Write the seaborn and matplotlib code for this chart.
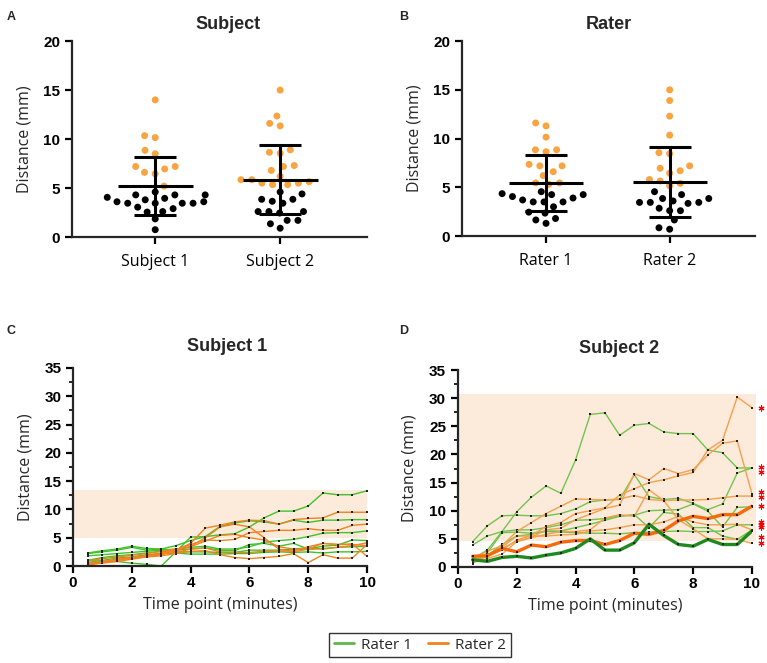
import matplotlib
matplotlib.use("Agg")
import matplotlib.pyplot as plt
from matplotlib.lines import Line2D
from matplotlib.ticker import MultipleLocator
import seaborn as sns
import numpy as np
import pandas as pd

# ── panel A / B : individual distances (orange = above 5 mm) ─────────
subject_groups = ["Subject 1", "Subject 2"]
subj1_high = [14.0, 10.15, 10.35, 8.85, 8.5, 7.2, 6.95, 7.2, 6.45, 6.6, 5.2]
subj1_low = [4.6, 4.3, 4.3, 4.3, 4.05, 3.8, 3.95, 3.45, 3.45, 3.6, 3.6,
             3.45, 3.45, 3.05, 2.9, 2.6, 2.55, 1.85, 0.75]
subj2_high = [15.0, 12.35, 11.35, 11.6, 8.65, 8.55, 8.9, 7.3, 7.2, 6.8,
              5.85, 5.85, 5.5, 5.35, 5.35, 5.5, 5.65, 6.2]
subj2_low = [4.6, 4.4, 3.85, 3.85, 3.45, 3.65, 2.6, 2.6, 2.6, 2.45,
             1.7, 1.7, 0.9, 1.35]
subject_mean = [5.2, 5.85]
subject_sd = [2.95, 3.5]

rater_groups = ["Rater 1", "Rater 2"]
rater1_high = [11.3, 11.6, 10.15, 8.85, 8.85, 8.65, 7.2, 7.35, 7.2, 6.6,
               6.2, 5.45, 5.3, 5.45]
rater1_low = [4.55, 4.25, 4.35, 4.25, 3.9, 4.05, 3.5, 3.5, 3.5, 3.7, 3.0,
              2.45, 2.35, 1.8, 1.65, 1.3]
rater2_high = [15.0, 13.9, 12.3, 10.35, 8.55, 8.45, 6.95, 6.45, 6.7, 7.2,
               5.8, 5.4, 5.15, 5.65]
rater2_low = [4.55, 4.25, 3.85, 3.85, 3.45, 3.45, 3.35, 3.45, 3.6, 2.85,
              2.6, 2.6, 1.65, 0.7, 0.85]
rater_mean = [5.45, 5.55]
rater_sd = [2.85, 3.62]

# ── panel C / D : distance over time, one line per trial ──────────────
time_points = [0.5, 1.0, 1.5, 2.0, 2.5, 3.0, 3.5, 4.0, 4.5, 5.0,
               5.5, 6.0, 6.5, 7.0, 7.5, 8.0, 8.5, 9.0, 9.5, 10.0]

c_rater1 = [
    [1.0, 0.8, 0.8, 0.5, 0.3, 0.0, 2.5, 5.1, 5.2, 5.5, 5.7, 6.9, 8.5, 9.7, 9.7, 10.6, 12.9, 12.6, 12.6, 13.3],
    [2.2, 2.5, 2.8, 3.3, 2.8, 3.0, 3.6, 4.5, 5.2, 7.0, 7.6, 8.0, 7.8, 7.4, 8.1, 7.7, 8.1, 8.1, 8.2, 8.2],
    [1.8, 2.0, 2.2, 2.4, 2.6, 2.8, 3.0, 3.3, 3.5, 3.0, 3.0, 3.4, 4.2, 4.5, 4.7, 5.2, 5.8, 5.9, 5.9, 6.2],
    [2.3, 2.7, 3.0, 3.5, 3.1, 3.0, 2.8, 3.0, 3.2, 2.8, 2.7, 3.8, 4.0, 3.5, 4.0, 3.0, 3.5, 3.7, 4.6, 4.5],
    [1.0, 1.5, 1.8, 2.0, 2.3, 2.6, 2.5, 2.5, 2.5, 2.4, 2.4, 2.8, 2.8, 2.8, 3.0, 3.2, 3.0, 3.3, 3.4, 3.5],
    [0.6, 1.0, 1.4, 1.6, 2.0, 2.2, 2.3, 2.1, 2.1, 2.1, 2.2, 2.2, 2.4, 2.5, 2.4, 2.5, 2.3, 2.5, 2.5, 2.6],
]
c_rater2 = [
    [0.3, 0.5, 0.8, 1.2, 1.6, 2.0, 2.8, 4.0, 6.7, 7.2, 7.8, 8.1, 8.0, 7.4, 8.2, 8.4, 8.5, 9.5, 9.5, 9.5],
    [0.5, 0.8, 1.2, 1.5, 1.8, 2.3, 2.9, 3.8, 4.6, 4.5, 4.7, 5.9, 6.1, 6.3, 6.3, 6.6, 6.3, 6.3, 7.2, 7.4],
    [0.2, 0.6, 1.0, 1.4, 1.8, 2.2, 2.7, 3.5, 5.0, 6.9, 7.4, 6.9, 5.0, 3.0, 2.5, 3.0, 4.0, 3.8, 3.8, 3.6],
    [0.2, 0.6, 1.2, 1.5, 1.6, 1.8, 2.2, 2.6, 2.7, 2.0, 1.5, 1.3, 1.5, 1.7, 2.2, 0.6, 2.0, 1.4, 1.4, 3.8],
    [0.3, 0.8, 1.1, 1.3, 1.7, 2.1, 2.4, 3.0, 3.2, 2.5, 2.4, 2.4, 2.6, 2.6, 2.7, 3.4, 4.0, 3.8, 3.9, 1.7],
    [0.9, 1.3, 1.6, 1.9, 2.2, 2.6, 3.0, 3.4, 4.4, 5.4, 5.6, 5.0, 4.6, 3.4, 3.0, 2.9, 3.1, 3.3, 3.6, 4.1],
]
d_rater1 = [
    [3.9, 5.5, 6.3, 9.8, 12.4, 14.4, 13.1, 19.0, 27.1, 27.4, 23.4, 25.2, 25.5, 24.0, 23.7, 23.7, 20.8, 20.3, 17.6, 17.6],
    [4.5, 7.3, 9.1, 9.2, 9.1, 9.1, 9.5, 10.3, 11.6, 11.9, 12.0, 16.4, 12.5, 12.0, 12.2, 11.3, 10.2, 11.2, 16.7, 17.6],
    [1.5, 3.0, 6.3, 6.6, 6.6, 7.0, 7.5, 8.3, 8.4, 8.6, 9.1, 9.2, 10.0, 10.1, 10.2, 11.2, 9.9, 7.1, 10.6, 10.7],
    [0.6, 2.5, 6.1, 6.2, 6.0, 6.3, 6.2, 6.1, 6.0, 6.0, 5.9, 6.1, 6.2, 6.3, 6.4, 6.3, 6.3, 6.4, 7.5, 7.5],
    [1.2, 2.0, 4.0, 5.5, 5.8, 6.4, 6.4, 7.0, 7.6, 8.3, 9.0, 9.3, 7.0, 9.7, 9.4, 7.0, 7.0, 5.5, 4.9, 6.6],
]
d_rater2 = [
    [1.8, 2.2, 3.3, 4.6, 5.3, 6.6, 6.9, 8.4, 9.4, 10.4, 11.0, 16.6, 15.5, 17.5, 16.6, 17.3, 19.9, 22.0, 22.4, 13.0],
    [1.0, 1.9, 3.0, 4.8, 5.6, 7.2, 7.9, 9.5, 10.0, 10.5, 12.8, 13.9, 15.0, 15.5, 16.2, 16.8, 20.8, 22.5, 30.2, 28.3],
    [1.5, 2.8, 3.8, 6.3, 7.9, 9.5, 10.8, 12.1, 12.0, 11.9, 12.1, 12.7, 12.0, 11.8, 11.9, 11.9, 12.0, 12.3, 12.6, 12.6],
    [0.8, 1.5, 2.3, 4.5, 5.2, 5.8, 6.3, 6.3, 6.6, 8.7, 9.3, 9.0, 13.7, 11.8, 8.4, 6.8, 5.0, 5.0, 4.9, 4.2],
    [1.3, 1.8, 3.5, 5.5, 5.5, 5.5, 5.7, 5.8, 6.4, 6.6, 7.0, 7.5, 7.5, 8.0, 9.0, 8.0, 7.5, 7.5, 7.6, 6.6],
]
d_rater1_bold = [1.3, 1.0, 1.7, 1.9, 1.6, 2.1, 2.5, 3.3, 5.0, 3.0, 3.0, 4.3, 7.6, 5.6, 4.0, 3.7, 4.9, 4.0, 4.0, 6.4]
d_rater2_bold = [1.9, 2.0, 3.3, 2.7, 3.9, 3.6, 4.4, 4.7, 4.7, 4.0, 4.7, 6.0, 5.8, 6.5, 8.2, 9.0, 8.6, 9.3, 9.3, 10.8]

c_band = (5.0, 13.5)
d_band = (4.7, 30.7)
d_stars = [28.2, 17.8, 16.9, 13.4, 12.4, 10.8, 8.0, 7.5, 7.1, 5.4, 4.2]

ORANGE_DOT = "#F9A341"
GREEN = "#3FC22A"
ORANGE = "#F2821E"
GREEN_D = "#72C44E"
ORANGE_D = "#F4A04C"
BAND = "#FCEADB"
BOLD_FONT = "Liberation Sans"

sns.set_style("ticks")
plt.rcParams["font.family"] = ["Open Sans", "DejaVu Sans"]
plt.rcParams["axes.linewidth"] = 1.6
plt.rcParams["xtick.major.width"] = 1.6
plt.rcParams["ytick.major.width"] = 1.6
plt.rcParams["ytick.minor.width"] = 1.2
plt.rcParams["xtick.color"] = "black"
plt.rcParams["ytick.color"] = "black"

fig = plt.figure(figsize=(7.67, 6.63), dpi=100)
axA = fig.add_axes([0.094, 0.6425, 0.3845, 0.2955])
axB = fig.add_axes([0.6023, 0.644, 0.382, 0.294])
axC = fig.add_axes([0.0952, 0.1463, 0.3833, 0.2987])
axD = fig.add_axes([0.597, 0.1448, 0.3834, 0.2971])


def dot_frame(groups, highs, lows):
    rows = []
    for g, hi, lo in zip(groups, highs, lows):
        rows += [(g, v, "high") for v in hi]
        rows += [(g, v, "low") for v in lo]
    return pd.DataFrame(rows, columns=["group", "dist", "level"])


swarm_sets = []


def dot_panel(ax, df, groups, means, sds, title, xlim):
    n0 = len(ax.collections)
    sns.swarmplot(data=df, x="group", y="dist", hue="level", order=groups,
                  palette={"high": ORANGE_DOT, "low": "black"}, size=7.4,
                  linewidth=0, legend=False, ax=ax, zorder=2)
    swarm_sets.extend(ax.collections[n0:])
    pos = np.arange(len(groups))
    ax.errorbar(pos, means, yerr=sds, fmt="none", ecolor="black",
                elinewidth=2.2, capsize=15, capthick=2.2, zorder=4)
    ax.hlines(means, pos - 0.3, pos + 0.3, color="black", lw=2.2, zorder=4)
    ax.set_xlim(*xlim)
    ax.set_ylim(0, 20)
    ax.set_yticks([0, 5, 10, 15, 20])
    ax.set_xlabel("")
    ax.set_ylabel("Distance (mm)", fontsize=11.5, labelpad=8)
    ax.set_title(title, fontsize=13, fontweight="bold", family=BOLD_FONT,
                 x=0.53 if title == "Subject" else 0.5, pad=9)
    ax.tick_params(axis="x", labelsize=11.5, length=5, pad=7)
    ax.tick_params(axis="y", length=5)
    for lab in ax.get_yticklabels():
        lab.set_fontweight("bold")
        lab.set_family(BOLD_FONT)
        lab.set_fontsize(11)
    sns.despine(ax=ax)


dot_panel(axA, dot_frame(subject_groups, [subj1_high, subj2_high], [subj1_low, subj2_low]),
          subject_groups, subject_mean, subject_sd, "Subject", (-0.665, 1.695))
dot_panel(axB, dot_frame(rater_groups, [rater1_high, rater2_high], [rater1_low, rater2_low]),
          rater_groups, rater_mean, rater_sd, "Rater", (-0.68, 1.69))


def line_frame(r1, r2):
    rows = []
    for name, lines in (("Rater 1", r1), ("Rater 2", r2)):
        for k, vals in enumerate(lines):
            rows += [(t, v, f"{name}-{k}", name) for t, v in zip(time_points, vals)]
    return pd.DataFrame(rows, columns=["time", "dist", "line", "rater"])


def time_panel(ax, df, band, band_end, title, title_x, green, orange):
    ax.fill_between([0, band_end], band[0], band[1], color=BAND, lw=0,
                    zorder=0, clip_on=False)
    sns.lineplot(data=df, x="time", y="dist", hue="rater", units="line",
                 estimator=None, palette={"Rater 1": green, "Rater 2": orange},
                 marker="s", markersize=1.9, markerfacecolor="#222222",
                 markeredgecolor="#222222", markeredgewidth=0, lw=1.0,
                 legend=False, ax=ax, zorder=2)
    ax.set_xlim(0, 10)
    ax.set_ylim(0, 35)
    ax.set_xticks([0, 2, 4, 6, 8, 10])
    ax.set_yticks(range(0, 36, 5))
    ax.yaxis.set_minor_locator(MultipleLocator(2.5))
    ax.tick_params(axis="y", which="minor", length=3)
    ax.tick_params(axis="both", which="major", length=5)
    ax.tick_params(axis="x", pad=2)
    ax.set_xlabel("Time point (minutes)", fontsize=11.5, labelpad=5)
    ax.set_ylabel("Distance (mm)", fontsize=11.5, labelpad=8)
    ax.set_title(title, fontsize=13, fontweight="bold", family=BOLD_FONT,
                 x=title_x, pad=12)
    for lab in ax.get_yticklabels() + ax.get_xticklabels():
        lab.set_fontweight("bold")
        lab.set_family(BOLD_FONT)
        lab.set_fontsize(11)
    for sp in ("left", "bottom"):
        ax.spines[sp].set_zorder(5)
    sns.despine(ax=ax)


time_panel(axC, line_frame(c_rater1, c_rater2), c_band, 10.0,
           "Subject 1", 0.525, GREEN, ORANGE)
time_panel(axD, line_frame(d_rater1, d_rater2), d_band, 10.15,
           "Subject 2", 0.548, GREEN_D, ORANGE_D)

for vals, col in ((d_rater2_bold, "#F76A0C"), (d_rater1_bold, "#1F8A1F")):
    sns.lineplot(x=time_points, y=vals, color=col, lw=2.4, marker="s",
                 markersize=1.9, markerfacecolor="#222222",
                 markeredgecolor="#222222", markeredgewidth=0,
                 ax=axD, zorder=3)
axD.scatter([10.3] * len(d_stars), d_stars, marker=(6, 2, 0), s=14,
            color="red", lw=0.8, clip_on=False, zorder=6)

# panel letters
for letter, x, y in (("A", 0.009, 0.975), ("B", 0.521, 0.975),
                     ("C", 0.009, 0.5), ("D", 0.521, 0.5)):
    fig.text(x, y, letter, fontsize=9, fontweight="bold", family=BOLD_FONT,
             va="center")

handles = [Line2D([], [], color="#5DB947", lw=2), Line2D([], [], color=ORANGE, lw=2)]
leg = fig.legend(handles, ["Rater 1", "Rater 2"], loc="center",
                 bbox_to_anchor=(0.5476, 0.0271), ncol=2, fontsize=11,
                 frameon=True, fancybox=False, handlelength=1.3,
                 handletextpad=0.5, columnspacing=1.0, borderpad=0.3)
leg.get_frame().set_edgecolor("black")
leg.get_frame().set_linewidth(1.0)

# lay out the swarms with wide spacing, then shrink the dots
fig.canvas.draw()
for pc in swarm_sets:
    if "draw" in pc.__dict__:
        del pc.draw
    pc.set_sizes([5.0 ** 2])

fig.savefig("out.png", dpi=100)
